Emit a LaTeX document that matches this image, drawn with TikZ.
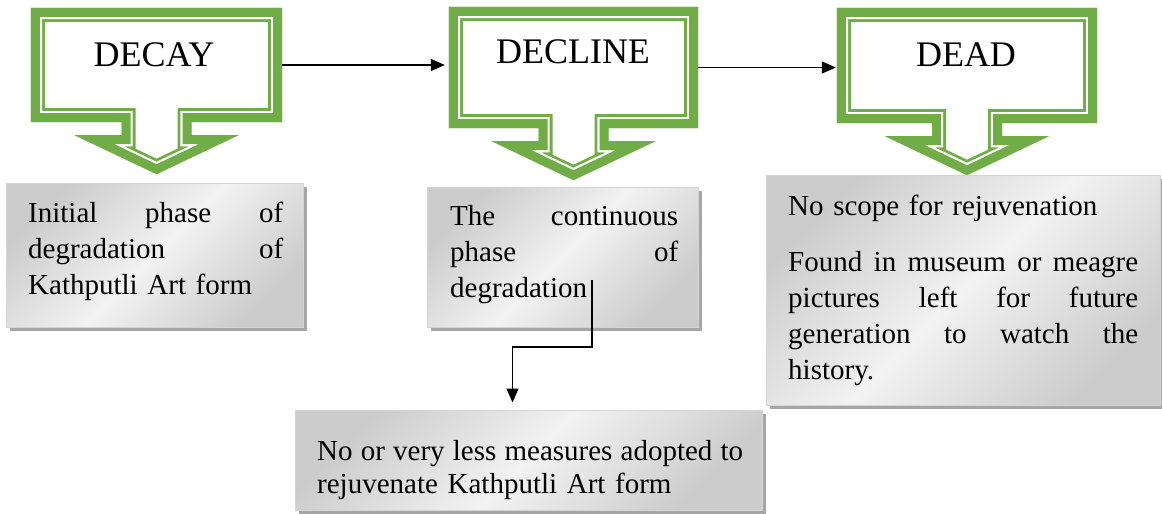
\documentclass[tikz,border=0pt]{standalone}
\usepackage{fontspec}
\setmainfont{Liberation Serif}
\usetikzlibrary{arrows.meta,positioning,calc,shadows}
\definecolor{leaf}{HTML}{70AD47}
\definecolor{boxline}{HTML}{D4D4D4}
\definecolor{boxshadow}{HTML}{A6A6A6}

\tikzset{
  callout path/.style={insert path={(#1.north west) -- (#1.north east) -- (#1.south east)
    -- ($(#1.south)+(35,0)$) -- ($(#1.south)+(35,13)$) -- ($(#1.south)+(82,13)$)
    -- ($(#1.south)+(0,52)$)
    -- ($(#1.south)+(-82,13)$) -- ($(#1.south)+(-35,13)$) -- ($(#1.south)+(-35,0)$)
    -- (#1.south west) -- cycle}},
}

% thick-thin green outline, drawn inside the shape
\newcommand{\greencallout}[1]{%
  \begin{scope}
    \clip[callout path=#1];
    \draw[leaf, line width=28pt, line join=miter, callout path=#1];
    \draw[white, line width=22.4pt, line join=miter, callout path=#1];
    \draw[leaf, line width=18pt, line join=miter, callout path=#1];
  \end{scope}}

\begin{document}
\begin{tikzpicture}[x=1pt, y=-1pt,
  titletext/.style={font=\fontsize{36}{40}\selectfont, inner sep=0pt},
  bodytext/.style={font=\fontsize{29}{36}\selectfont, align=left, inner sep=0pt},
  greybox/.style={draw=boxline, line width=1pt, left color=gray!40, right color=gray!40,
    middle color=gray!10, shading angle=45,
    drop shadow={shadow xshift=4pt, shadow yshift=-4pt, fill=boxshadow, opacity=1}},
  link/.style={-{Triangle[length=14pt,width=12pt]}, line width=1.3pt}]

  \path[use as bounding box, fill=white] (0,0) rectangle (1162,514);

  % callout bodies
  \node[inner sep=0pt, minimum width=251pt, minimum height=114pt] (decay)   at (156.5,65)   {};
  \node[inner sep=0pt, minimum width=249pt, minimum height=121pt] (decline) at (573.5,67.5) {};
  \node[inner sep=0pt, minimum width=260pt, minimum height=115pt] (dead)    at (967,65.5)   {};
  \greencallout{decay}
  \greencallout{decline}
  \greencallout{dead}
  \node[titletext, anchor=base] (decaytitle)   at (154,66) {DECAY};
  \node[titletext, anchor=base] (declinetitle) at (573,63) {DECLINE};
  \node[titletext, anchor=base] (deadtitle)    at (966,66) {DEAD};

  % grey boxes
  \node[greybox, minimum width=297pt, minimum height=144pt] (decaybox)   at (154.5,255) {};
  \node[greybox, minimum width=271pt, minimum height=140pt] (declinebox) at (562.5,257) {};
  \node[greybox, minimum width=394pt, minimum height=230pt] (deadbox)    at (963,290)   {};
  \node[greybox, minimum width=467pt, minimum height=100pt] (lessbox)    at (528.5,460) {};

  \node[bodytext, text width=255pt, anchor=base west] (decaytext) at (28,222)
    {Initial\hfill phase\hfill of\\degradation\hfill of\\Kathputli Art form};
  \node[bodytext, text width=228pt, anchor=base west] (declinetext) at (450,225)
    {The\hfill continuous\\phase\hfill of\\degradation};
  \node[bodytext, text width=350pt, anchor=base west] (deadtext) at (788,215)
    {No scope for rejuvenation\\[20pt]Found\hfill in\hfill museum\hfill or\hfill meagre\\
     pictures\hfill left\hfill for\hfill future\\generation\hfill to\hfill watch\hfill the\\history.};
  \node[bodytext, font=\fontsize{29}{33}\selectfont, text width=426pt, anchor=base west] (lesstext) at (317,460)
    {No\hfill or\hfill very\hfill less\hfill measures\hfill adopted\hfill to\\rejuvenate Kathputli Art form};

  % connectors
  \draw[link, shorten >=4pt] (decay.east) -- (decay.east -| decline.west);
  \draw[link, shorten >=1pt] (decline.east) -- (decline.east -| dead.west);
  \coordinate (linkstart) at (592,280);
  \draw[link] (linkstart) -- ++(0,67) -| ($(lessbox.north)+(-16,-7)$);
\end{tikzpicture}
\end{document}
